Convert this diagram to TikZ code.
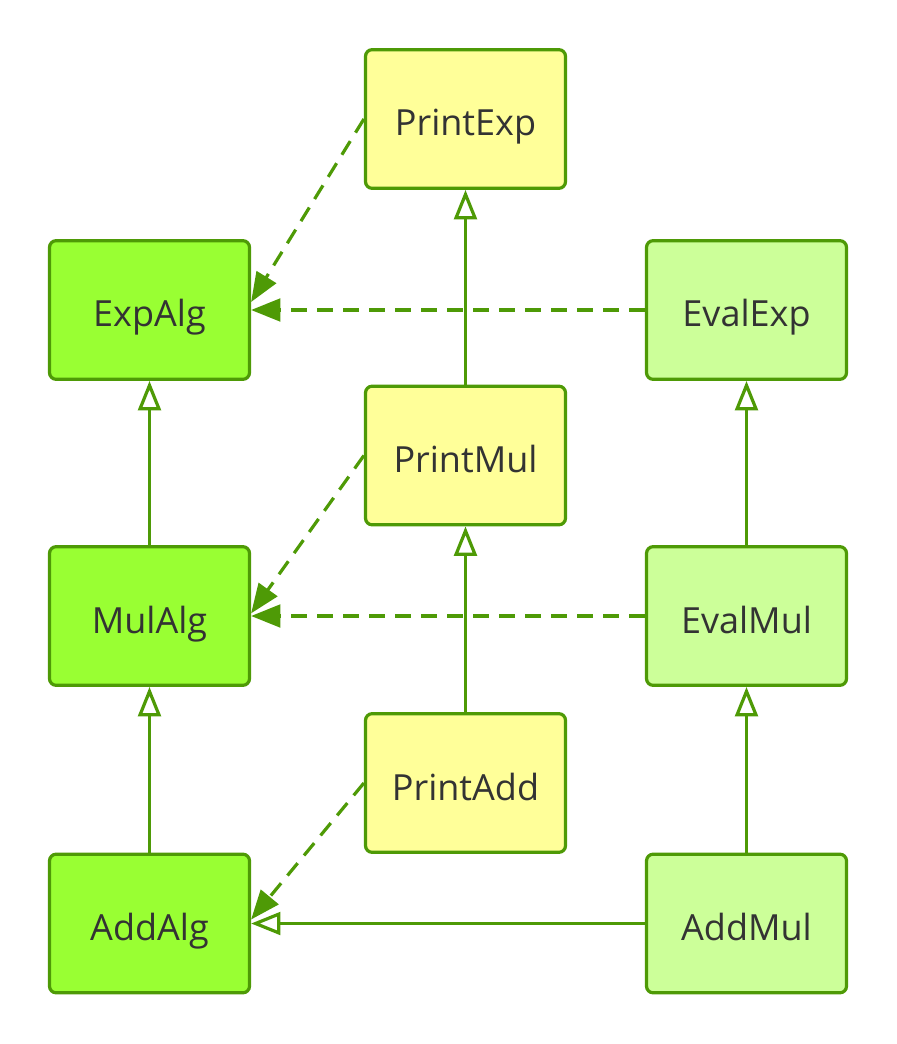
\documentclass[tikz,border=0pt]{standalone}
\usepackage{fontspec}
\setmainfont{Open Sans}
\usetikzlibrary{arrows.meta}
\definecolor{edge}{HTML}{4E9A06}
\definecolor{algfill}{HTML}{99FF33}
\definecolor{evalfill}{HTML}{CCFF99}
\definecolor{printfill}{HTML}{FFFF99}
\definecolor{txt}{HTML}{333333}
\tikzset{
  cls/.style={draw=edge, line width=2.4pt, rounded corners=5pt, minimum width=150pt, minimum height=104pt, inner sep=0pt, text=txt, font=\fontsize{27}{31}\selectfont, text height=25.5pt, text depth=0pt},
  alg/.style={cls, fill=algfill},
  evl/.style={cls, fill=evalfill},
  prt/.style={cls, fill=printfill},
  dep/.style={draw=edge, line width=2.4pt, dash pattern=on 12pt off 7.5pt, -{Triangle[length=22pt,width=17pt]}, color=edge},
  inh/.style={draw=edge, line width=2.4pt, -{Triangle[open,length=22pt,width=17pt,fill=white]}},
}
\begin{document}
\begin{tikzpicture}[x=0.75pt,y=-0.75pt]
\useasboundingbox (0,0) rectangle (896,1044);
\node[prt] (pe) at (465.5,119) {PrintExp};
\node[alg] (ea) at (149.5,310) {ExpAlg};
\node[evl] (ee) at (746.5,310) {EvalExp};
\node[prt] (pm) at (465.5,455.5) {PrintMul};
\node[alg] (ma) at (149.5,616) {MulAlg};
\node[evl] (em) at (746.5,616) {EvalMul};
\node[prt] (pa) at (465.5,783) {PrintAdd};
\node[alg] (aa) at (149.5,923.5) {AddAlg};
\node[evl] (am) at (746.5,923.5) {AddMul};
% inheritance
\draw[inh] (pm.north) -- (pe.south);
\draw[inh] (pa.north) -- (pm.south);
\draw[inh] (ma.north) -- (ea.south);
\draw[inh] (aa.north) -- (ma.south);
\draw[inh] (em.north) -- (ee.south);
\draw[inh] (am.north) -- (em.south);
\draw[inh] (am.west) -- (aa.east);
% dependencies
\draw[dep] (pe.west) -- ([yshift=6pt]ea.east);
\draw[dep] (ee.west) -- (ea.east);
\draw[dep] (pm.west) -- ([yshift=2pt]ma.east);
\draw[dep] (em.west) -- (ma.east);
\draw[dep] (pa.west) -- ([yshift=3pt]aa.east);
\end{tikzpicture}
\end{document}
